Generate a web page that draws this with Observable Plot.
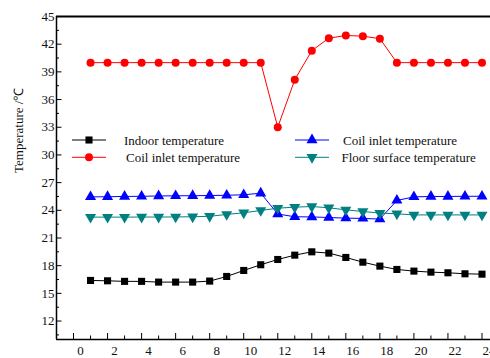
<!DOCTYPE html>
<html>
<head>
<meta charset="utf-8">
<script src="https://cdn.jsdelivr.net/npm/d3@7"></script>
<script src="https://cdn.jsdelivr.net/npm/@observablehq/plot@0.6"></script>
<style>
  html, body { margin: 0; padding: 0; background: #fff; }
  #chart { width: 490px; height: 358px; }
  #chart svg, #chart svg text { font-family: "Liberation Serif", "Times New Roman", serif !important; }
</style>
</head>
<body>
<div id="chart"></div>
<script>
// ---- data ----
const hours = [1,2,3,4,5,6,7,8,9,10,11,12,13,14,15,16,17,18,19,20,21,22,23,24];
const indoorTemp = [16.4,16.36,16.3,16.3,16.22,16.22,16.22,16.33,16.83,17.48,18.1,18.67,19.14,19.5,19.36,18.89,18.38,17.95,17.59,17.41,17.3,17.23,17.12,17.08];
const coilInletRed = [40,40,40,40,40,40,40,40,40,40,40,33.0,38.15,41.3,42.65,42.94,42.87,42.6,40,40,40,40,40,40];
const coilInletBlue = [25.45,25.47,25.5,25.52,25.55,25.57,25.58,25.6,25.63,25.68,25.85,23.6,23.3,23.28,23.22,23.15,23.12,23.05,25.07,25.45,25.5,25.5,25.52,25.52];
const floorSurface = [23.26,23.26,23.26,23.27,23.27,23.28,23.3,23.35,23.55,23.73,23.98,24.23,24.34,24.41,24.27,24.05,23.87,23.7,23.62,23.5,23.5,23.5,23.5,23.5];

const seriesNames = ["Indoor temperature","Coil inlet temperature","Coil inlet temperature","Floor surface temperature"];
const seriesColors = ["#000000","#ff0000","#0000ff","#008080"];
const seriesSymbols = ["square","circle","triangle","triangle"];
const seriesRotate = [0,0,0,180];

const xTickLabels = [0,2,4,6,8,10,12,14,16,18,20,22,24];
const xMinorTicks = [1,3,5,7,9,11,13,15,17,19,21,23];
const yTickLabels = [12,15,18,21,24,27,30,33,36,39,42,45];
const yMinorTicks = [10.5,13.5,16.5,19.5,22.5,25.5,28.5,31.5,34.5,37.5,40.5,43.5];
const yLabel = "Temperature /℃";

// ---- layout ----
const W = 490, H = 358, mL = 56, mR = 0, mT = 16, mB = 19;
const plotW = W - mL - mR, plotH = H - mT - mB;

const allValues = [indoorTemp, coilInletRed, coilInletBlue, floorSurface];
const rows = allValues.flatMap((vals, s) => hours.map((h, i) => ({hour: h, value: vals[i], s})));

const marks = [];
// axis lines
marks.push(Plot.ruleY([45], {stroke: "black", strokeWidth: 2}));
marks.push(Plot.ruleY([10], {stroke: "black", strokeWidth: 1.5}));
marks.push(Plot.ruleX([-1], {stroke: "black", strokeWidth: 1.5}));
// inward ticks
marks.push(Plot.tickX(xTickLabels, {x: d => d, insetTop: plotH - 6, stroke: "black"}));
marks.push(Plot.tickX(xMinorTicks, {x: d => d, insetTop: plotH - 3.5, stroke: "black"}));
marks.push(Plot.tickY(yTickLabels, {y: d => d, insetRight: plotW - 5.5, stroke: "black"}));
marks.push(Plot.tickY(yMinorTicks, {y: d => d, insetRight: plotW - 3, stroke: "black"}));
// tick labels
marks.push(Plot.axisX({ticks: xTickLabels, tickSize: 0, tickPadding: 6, dx: 7, fontSize: 13, tickFormat: d => d, label: null, color: "#111"}));
marks.push(Plot.axisY({ticks: yTickLabels, tickSize: 0, tickPadding: 2, fontSize: 13, tickFormat: d => d, label: null, color: "#111"}));
// y label
marks.push(Plot.text([yLabel], {text: d => d, frameAnchor: "left", rotate: -90, dx: -38, dy: -5, fontSize: 13, fill: "#111"}));

// series
seriesNames.forEach((name, s) => {
  const d = rows.filter(r => r.s === s);
  marks.push(Plot.line(d, {x: "hour", y: "value", stroke: seriesColors[s], strokeWidth: 1}));
  marks.push(Plot.dot(d, {x: "hour", y: "value", symbol: seriesSymbols[s], r: seriesSymbols[s] === "triangle" ? 4.1 : 4, fill: seriesColors[s], stroke: "none", rotate: seriesRotate[s]}));
});

// legend (custom render mark)
marks.push((index, scales, values, dims) => {
  const g = d3.create("svg:g").attr("font-size", 13).attr("fill", "#111").attr("text-anchor", "start");
  const cols = [{lineX: 72, textX: 124}, {lineX: 295, textX: 343}];
  const rowY = [140, 157.3];
  const order = [[0,0,0],[1,0,1],[2,1,0],[3,1,1]]; // series, col, row
  order.forEach(([s, c, r]) => {
    const x0 = cols[c].lineX, y0 = rowY[r];
    g.append("line").attr("x1", x0).attr("x2", x0 + 34).attr("y1", y0).attr("y2", y0)
      .attr("stroke", seriesColors[s]).attr("stroke-width", 1);
    const sym = seriesSymbols[s] === "square" ? d3.symbolSquare : seriesSymbols[s] === "circle" ? d3.symbolCircle : d3.symbolTriangle;
    const rr = seriesSymbols[s] === "triangle" ? 4.1 : 4;
    g.append("path").attr("d", d3.symbol(sym, Math.PI * rr * rr)())
      .attr("transform", `translate(${x0 + 17},${y0}) rotate(${seriesRotate[s]})`)
      .attr("fill", seriesColors[s]);
    g.append("text").attr("x", cols[c].textX + (s === 1 ? 2 : 0) - (s === 3 ? 1.5 : 0)).attr("y", y0).attr("dy", "0.35em")
      .attr("text-anchor", "start")
      .text(seriesNames[s]);
  });
  return g.node();
});

const chart = Plot.plot({
  width: W, height: H,
  marginLeft: mL, marginRight: mR, marginTop: mT, marginBottom: mB,
  x: {domain: [-1, 24.5], axis: null},
  y: {domain: [10, 45], axis: null},
  style: {fontFamily: "'Liberation Serif', 'Times New Roman', serif", background: "white", overflow: "visible"},
  marks
});
document.getElementById("chart").appendChild(chart);
</script>
</body>
</html>
